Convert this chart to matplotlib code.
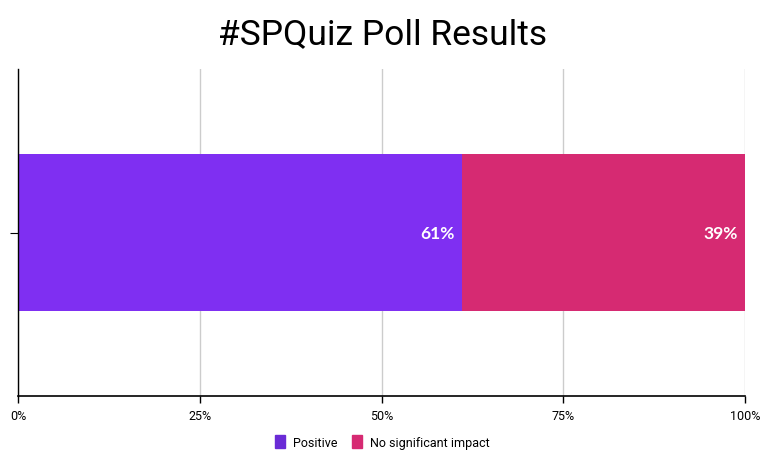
import matplotlib.pyplot as plt
from matplotlib.patches import Patch

categories = [""]
positive = [61]
no_impact = [39]
series_names = ["Positive", "No significant impact"]
colors = ["#7f2ff2", "#d62a72"]
legend_colors = ["#6a2bd6", "#d62a72"]
ticks = [0, 25, 50, 75, 100]
tick_labels = ["0%", "25%", "50%", "75%", "100%"]

fig = plt.figure(figsize=(7.65, 4.64), dpi=100)
ax = fig.add_axes([0.0235, 0.144, 0.9505, 0.705])

ax.barh(categories, positive, height=0.48, color=colors[0])
ax.barh(categories, no_impact, left=positive, height=0.48, color=colors[1])

# value labels inside the right end of each segment
ax.text(positive[0] - 1, 0, f"{positive[0]}%", color="white", fontsize=12.5,
        fontweight="bold", family="Lato", ha="right", va="center")
ax.text(positive[0] + no_impact[0] - 1, 0, f"{no_impact[0]}%", color="white",
        fontsize=12.5, fontweight="bold", family="Lato", ha="right", va="center")

ax.set_xlim(0, 100)
ax.set_ylim(-0.5, 0.5)
ax.set_xticks(ticks)
ax.set_xticklabels(tick_labels, family="Roboto", fontsize=9)
ax.grid(axis="x", color="#cccccc", linewidth=1)
ax.set_axisbelow(True)
ax.spines["top"].set_visible(False)
ax.spines["right"].set_visible(False)
ax.spines["bottom"].set_color("black")
ax.spines["bottom"].set_linewidth(1.2)
ax.spines["bottom"].set_zorder(5)
ax.spines["left"].set_linewidth(1.0)
ax.tick_params(axis="x", length=5, pad=4, width=1)
ax.tick_params(axis="y", length=6)
ax.set_yticklabels([])

fig.suptitle("#SPQuiz Poll Results", fontsize=25.5, family="Roboto", y=0.96)

handles = [Patch(color=c) for c in legend_colors]
fig.legend(handles, series_names, loc="center", bbox_to_anchor=(0.5, 0.045),
           ncol=2, frameon=False, prop={"family": "Roboto", "size": 9},
           handlelength=0.8, handleheight=1.2, columnspacing=1.2, handletextpad=0.6)

fig.savefig("out.png")
